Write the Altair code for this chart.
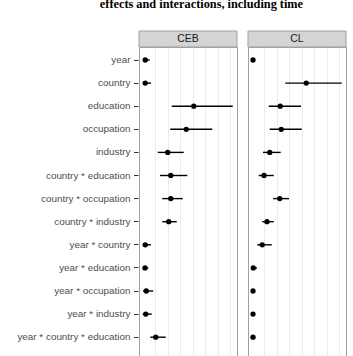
import altair as alt
import pandas as pd

terms = ["year", "country", "education", "occupation", "industry",
         "country * education", "country * occupation", "country * industry",
         "year * country", "year * education", "year * occupation",
         "year * industry", "year * country * education"]

ceb_est = [0.22, 0.22, 4.10, 3.50, 2.02, 2.26, 2.26, 2.10, 0.22, 0.20, 0.30, 0.26, 1.06]
ceb_lo  = [0.02, 0.02, 2.34, 2.22, 1.22, 1.40, 1.58, 1.58, 0.02, 0.02, 0.04, 0.02, 0.62]
ceb_hi  = [0.58, 0.68, 7.22, 5.58, 3.30, 3.58, 3.22, 2.74, 0.68, 0.46, 0.86, 0.74, 1.86]

cl_est = [0.12, 4.38, 2.30, 2.38, 1.46, 1.00, 2.26, 1.24, 0.86, 0.14, 0.12, 0.12, 0.12]
cl_lo  = [0.04, 2.70, 1.38, 1.46, 0.92, 0.58, 1.72, 0.86, 0.46, -0.04, 0.04, 0.04, 0.04]
cl_hi  = [0.20, 7.22, 3.96, 4.02, 2.34, 1.78, 3.00, 1.78, 1.62, 0.44, 0.20, 0.20, 0.20]

panels = ["CEB", "CL"]
grid_vals = [1, 2, 3, 4, 5, 6, 7]

rows = []
for p, est, lo, hi in [("CEB", ceb_est, ceb_lo, ceb_hi), ("CL", cl_est, cl_lo, cl_hi)]:
    for t, e, l, h in zip(terms, est, lo, hi):
        rows.append({"panel": p, "term": t, "est": e, "lo": l, "hi": h})
df = pd.DataFrame(rows)

W = 98
H = 309

xscale = alt.Scale(domain=[-0.28, 7.56], nice=False, zero=False)
yscale = alt.Scale(domain=terms, paddingInner=0, paddingOuter=0.1883, align=0.167)

xaxis = alt.Axis(values=grid_vals, labels=False, ticks=False, domain=False,
                 title=None, gridColor="#EBEBEB", gridWidth=1)
yaxis = alt.Axis(title=None, domain=False, tickColor="#333333", tickSize=4.5,
                 tickWidth=1, labelPadding=3.5, labelFontSize=9.9,
                 labelColor="#4D4D4D", labelFont="Liberation Sans",
                 gridColor="#EBEBEB", gridWidth=1, minExtent=120, maxExtent=120)

base = alt.Chart()

strip = base.transform_aggregate(n="count()", groupby=["panel"]).mark_rect(
    fill="#D4D4D4", stroke="#A0A0A0", strokeWidth=1
).encode(x=alt.value(0), x2=alt.value(W), y=alt.value(-16), y2=alt.value(0))

strip_text = base.transform_aggregate(n="count()", groupby=["panel"]).mark_text(
    fontSize=10.5, font="Liberation Sans", color="#1A1A1A", baseline="middle", align="center"
).encode(x=alt.value(W / 2), y=alt.value(-8), text="panel:N")

rules = base.mark_rule(color="black", strokeWidth=1.4).encode(
    x=alt.X("lo:Q", scale=xscale, axis=xaxis),
    x2="hi:Q",
    y=alt.Y("term:N", sort=terms, scale=yscale, axis=yaxis),
)

points = base.mark_circle(color="black", opacity=1, size=28).encode(
    x=alt.X("est:Q", scale=xscale, axis=xaxis),
    y=alt.Y("term:N", sort=terms, scale=yscale, axis=yaxis),
)

chart = alt.layer(strip, strip_text, rules, points, data=df).properties(
    width=W, height=H
).facet(
    column=alt.Column("panel:N", title=None, sort=panels,
                      header=alt.Header(labels=False, title=None)),
    spacing=9,
).properties(
    title=alt.Title("effects and interactions, including time", font="Liberation Serif",
                    fontSize=12.3, fontWeight="bold", color="black", anchor="middle",
                    offset=20, dx=19.5),
    padding={"left": 16, "top": -3, "right": 5, "bottom": 0},
).configure_view(stroke="#A0A0A0", strokeWidth=1)

chart.save("out.html", embed_options={"renderer": "svg", "actions": False})
